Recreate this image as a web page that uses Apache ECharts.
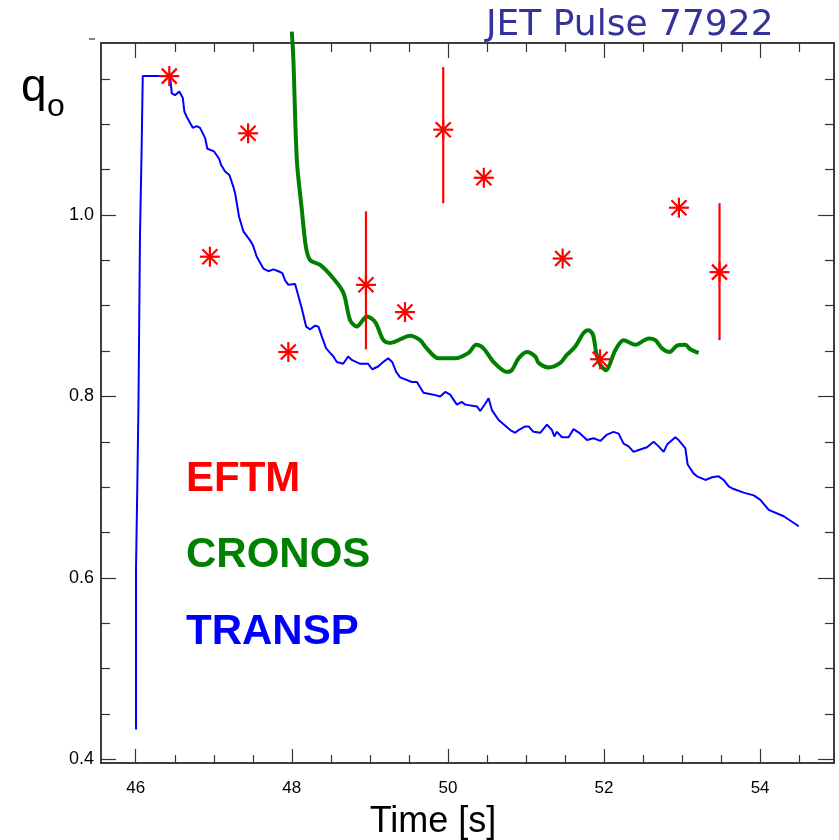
<!DOCTYPE html>
<html><head><meta charset="utf-8">
<script src="https://cdn.jsdelivr.net/npm/echarts@6/dist/echarts.min.js"></script>
<style>html,body{margin:0;padding:0;background:#fff}#c{width:839px;height:840px}</style>
</head><body><div id="c"></div>
<script>
// ---- data ----
const xMajorTicks = [46, 48, 50, 52, 54];
const xMinorTicks = [46.5, 47, 47.5, 48.5, 49, 49.5, 50.5, 51, 51.5, 52.5, 53, 53.5, 54.5];
const yMajorTicks = [0.4, 0.6, 0.8, 1.0];
const yMinorTicks = [0.45, 0.5, 0.55, 0.65, 0.7, 0.75, 0.85, 0.9, 0.95, 1.05, 1.1, 1.15];

const eftmTime = [46.43, 46.95, 47.44, 47.955, 48.95, 49.45, 49.94, 50.46, 51.47, 51.95, 52.96, 53.48];
const eftmQ    = [1.153, 0.954, 1.090, 0.849, 0.923, 0.893, 1.094, 1.041, 0.952, 0.841, 1.008, 0.937];
const eftmErrLow  = [null, null, null, null, 0.852, null, 1.013, null, null, null, null, 0.862];
const eftmErrHigh = [null, null, null, null, 1.004, null, 1.163, null, null, null, null, 1.013];

const cronosTime = [48.0, 48.02, 48.064, 48.128, 48.18, 48.235, 48.363, 48.533, 48.662, 48.747, 48.833, 48.962, 49.068, 49.174, 49.26, 49.517, 49.645, 49.709, 49.88, 50.094, 50.264, 50.363, 50.456, 50.585, 50.756, 50.82, 50.905, 51.013, 51.119, 51.162, 51.29, 51.44, 51.526, 51.632, 51.738, 51.803, 51.859, 51.901, 51.953, 52.03, 52.072, 52.145, 52.251, 52.401, 52.572, 52.658, 52.744, 52.841, 52.936, 53.042, 53.106, 53.213];
const cronosQ    = [1.202, 1.171, 1.061, 1.006, 0.965, 0.950, 0.945, 0.930, 0.914, 0.884, 0.877, 0.888, 0.882, 0.862, 0.859, 0.867, 0.862, 0.855, 0.842, 0.842, 0.848, 0.857, 0.853, 0.838, 0.827, 0.829, 0.842, 0.849, 0.844, 0.837, 0.832, 0.837, 0.846, 0.855, 0.870, 0.873, 0.868, 0.848, 0.835, 0.829, 0.835, 0.851, 0.862, 0.857, 0.864, 0.862, 0.853, 0.849, 0.856, 0.857, 0.852, 0.848];

const transpTime = [46.004, 46.004, 46.02, 46.02, 46.035, 46.035, 46.045, 46.045, 46.055, 46.055, 46.075, 46.075, 46.09, 46.09, 46.44, 46.462, 46.504, 46.559, 46.603, 46.623, 46.654, 46.731, 46.782, 46.824, 46.888, 46.918, 47.004, 47.068, 47.094, 47.145, 47.2, 47.251, 47.273, 47.324, 47.379, 47.465, 47.5, 47.551, 47.636, 47.7, 47.764, 47.828, 47.879, 47.914, 47.956, 48.042, 48.064, 48.128, 48.183, 48.235, 48.299, 48.341, 48.385, 48.44, 48.491, 48.533, 48.577, 48.658, 48.722, 48.773, 48.876, 48.978, 49.03, 49.106, 49.17, 49.235, 49.286, 49.337, 49.388, 49.538, 49.603, 49.687, 49.815, 49.901, 49.965, 50.029, 50.115, 50.179, 50.222, 50.372, 50.414, 50.478, 50.521, 50.564, 50.649, 50.799, 50.863, 50.905, 50.991, 51.033, 51.097, 51.183, 51.269, 51.333, 51.363, 51.397, 51.462, 51.546, 51.61, 51.696, 51.782, 51.867, 51.953, 52.038, 52.123, 52.187, 52.251, 52.315, 52.379, 52.444, 52.551, 52.636, 52.7, 52.764, 52.808, 52.914, 52.956, 53.042, 53.072, 53.149, 53.192, 53.299, 53.385, 53.469, 53.533, 53.597, 53.662, 53.79, 53.918, 54.004, 54.11, 54.303, 54.495];
const transpQ    = [0.433, 0.612, 0.612, 0.700, 0.700, 0.792, 0.792, 0.886, 0.886, 0.980, 0.980, 1.070, 1.070, 1.153, 1.153, 1.134, 1.132, 1.136, 1.129, 1.114, 1.108, 1.096, 1.098, 1.096, 1.085, 1.073, 1.070, 1.062, 1.055, 1.048, 1.044, 1.031, 1.024, 0.998, 0.982, 0.972, 0.967, 0.954, 0.941, 0.938, 0.940, 0.938, 0.936, 0.928, 0.923, 0.924, 0.917, 0.897, 0.877, 0.874, 0.878, 0.877, 0.866, 0.853, 0.848, 0.844, 0.838, 0.836, 0.844, 0.840, 0.836, 0.836, 0.830, 0.833, 0.838, 0.842, 0.838, 0.827, 0.821, 0.816, 0.816, 0.804, 0.802, 0.800, 0.805, 0.802, 0.791, 0.794, 0.791, 0.789, 0.784, 0.792, 0.798, 0.785, 0.774, 0.763, 0.760, 0.763, 0.767, 0.767, 0.761, 0.760, 0.769, 0.763, 0.756, 0.761, 0.755, 0.755, 0.764, 0.759, 0.752, 0.754, 0.751, 0.758, 0.761, 0.759, 0.748, 0.745, 0.739, 0.741, 0.744, 0.750, 0.745, 0.739, 0.747, 0.755, 0.752, 0.743, 0.725, 0.715, 0.712, 0.708, 0.711, 0.712, 0.708, 0.701, 0.698, 0.694, 0.691, 0.686, 0.675, 0.668, 0.657];

// ---- chart ----
const X_MIN = 45.555, X_MAX = 54.947, Y_MIN = 0.3961, Y_MAX = 1.1895;
const FONT = '"Liberation Sans", Arial, sans-serif';
const AX = '#333';
const gridBox = {left: 101, top: 43, width: 733, height: 720};

function xAx(grid, pos, ticks, len, labels) {
  return {
    type: 'value', gridIndex: grid, position: pos, min: X_MIN, max: X_MAX,
    axisLine: {show: true, onZero: false, lineStyle: {color: AX, width: 1.5}},
    axisTick: {show: true, inside: true, length: len, customValues: ticks, lineStyle: {color: AX, width: 1.2}},
    axisLabel: labels ? {show: true, customValues: ticks, margin: 17, fontSize: 17, color: '#000', fontFamily: FONT} : {show: false},
    splitLine: {show: false}
  };
}
function yAx(grid, pos, ticks, len, labels) {
  return {
    type: 'value', gridIndex: grid, position: pos, min: Y_MIN, max: Y_MAX,
    axisLine: {show: true, onZero: false, lineStyle: {color: AX, width: 1.5}},
    axisTick: {show: true, inside: true, length: len, customValues: ticks, lineStyle: {color: AX, width: 1.2}},
    axisLabel: labels ? {show: true, customValues: ticks, margin: 7, fontSize: 18, color: '#000', fontFamily: FONT,
      formatter: v => Number(v).toFixed(1)} : {show: false},
    splitLine: {show: false}
  };
}

const zip = (a, b) => a.map((v, i) => [v, b[i]]);

const chart = echarts.init(document.getElementById('c'), null, {renderer: 'canvas'});
chart.setOption({
  backgroundColor: '#fff',
  animation: false,
  grid: [Object.assign({}, gridBox), Object.assign({}, gridBox)],
  xAxis: [
    xAx(0, 'bottom', xMajorTicks, 14, true),
    xAx(0, 'top', xMajorTicks, 15, false),
    xAx(1, 'bottom', xMinorTicks, 8, false),
    xAx(1, 'top', xMinorTicks, 9, false)
  ],
  yAxis: [
    yAx(0, 'left', yMajorTicks, 15, true),
    yAx(0, 'right', yMajorTicks, 16, false),
    yAx(1, 'left', yMinorTicks, 9, false),
    yAx(1, 'right', yMinorTicks, 9, false)
  ],
  series: [
    {
      name: 'TRANSP', type: 'line', xAxisIndex: 0, yAxisIndex: 0,
      data: zip(transpTime, transpQ), showSymbol: false, symbol: 'none',
      lineStyle: {color: '#0000ff', width: 2}, z: 3
    },
    {
      name: 'CRONOS', type: 'line', xAxisIndex: 0, yAxisIndex: 0,
      data: zip(cronosTime, cronosQ), showSymbol: false, symbol: 'none', smooth: 0.3, clip: false,
      lineStyle: {color: '#008000', width: 4}, z: 4
    },
    {
      name: 'EFTM', type: 'custom', xAxisIndex: 0, yAxisIndex: 0,
      data: zip(eftmTime, eftmQ), clip: false, z: 5,
      renderItem: function (params, api) {
        const i = params.dataIndex;
        const p = api.coord([api.value(0), api.value(1)]);
        const r = 10, d = 7.5;
        const st = {stroke: '#ff0000', lineWidth: 2.2};
        const kids = [
          {type: 'line', shape: {x1: p[0] - r, y1: p[1], x2: p[0] + r, y2: p[1]}, style: st},
          {type: 'line', shape: {x1: p[0], y1: p[1] - r, x2: p[0], y2: p[1] + r}, style: st},
          {type: 'line', shape: {x1: p[0] - d, y1: p[1] - d, x2: p[0] + d, y2: p[1] + d}, style: st},
          {type: 'line', shape: {x1: p[0] - d, y1: p[1] + d, x2: p[0] + d, y2: p[1] - d}, style: st}
        ];
        if (eftmErrLow[i] != null && eftmErrHigh[i] != null) {
          const lo = api.coord([eftmTime[i], eftmErrLow[i]]);
          const hi = api.coord([eftmTime[i], eftmErrHigh[i]]);
          kids.push({type: 'line', shape: {x1: lo[0], y1: lo[1], x2: hi[0], y2: hi[1]}, style: st});
        }
        return {type: 'group', children: kids};
      }
    }
  ],
  graphic: [
    {type: 'text', x: 486, y: 26, style: {text: 'JET Pulse 77922', fill: '#333399', font: '36px "DejaVu Sans", sans-serif', textVerticalAlign: 'middle'}},
    {type: 'text', x: 21, y: 88, style: {text: 'q', fill: '#000', font: '46px ' + FONT, textVerticalAlign: 'middle'}},
    {type: 'text', x: 47, y: 107, style: {text: 'o', fill: '#000', font: '32px ' + FONT, textVerticalAlign: 'middle'}},
    {type: 'line', shape: {x1: 89, y1: 39, x2: 95, y2: 39}, style: {stroke: AX, lineWidth: 1.2}},
    {type: 'text', x: 433, y: 822, style: {text: 'Time [s]', fill: '#000', font: '36px ' + FONT, textAlign: 'center', textVerticalAlign: 'middle'}},
    {type: 'text', x: 186, y: 479, style: {text: 'EFTM', fill: '#ff0000', font: 'bold 42px ' + FONT, textVerticalAlign: 'middle'}},
    {type: 'text', x: 186, y: 555, style: {text: 'CRONOS', fill: '#008000', font: 'bold 42px ' + FONT, textVerticalAlign: 'middle'}},
    {type: 'text', x: 186, y: 632, style: {text: 'TRANSP', fill: '#0000ff', font: 'bold 42px ' + FONT, textVerticalAlign: 'middle'}}
  ]
});
</script>
</body></html>
